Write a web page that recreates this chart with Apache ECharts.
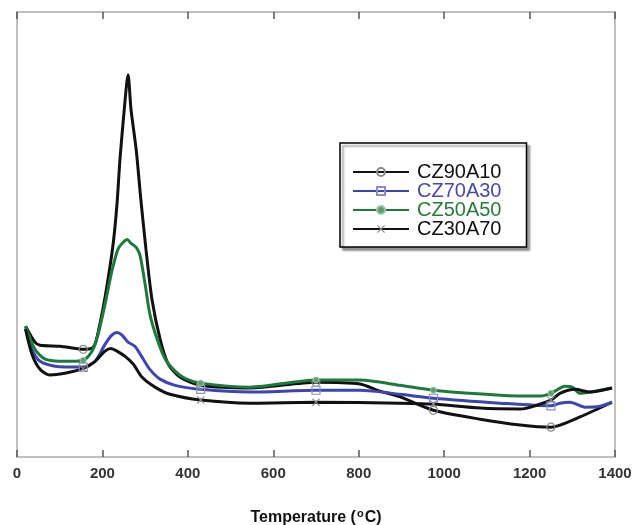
<!DOCTYPE html>
<html>
<head>
<meta charset="utf-8">
<script src="https://cdn.jsdelivr.net/npm/echarts@6/dist/echarts.min.js"></script>
<style>
  html, body { margin: 0; padding: 0; background: #ffffff; }
  #chart { width: 637px; height: 525px; }
</style>
</head>
<body>
<div id="chart"></div>
<script>
// TPD profiles: [temperature (°C), signal (a.u.)]
const cz90a10 = [[20,29.4],[42,25.8],[54,25.1],[101,24.9],[155,24.2],[176,24.5],[185,26.0],[201,33.2],[213,39.9],[225,47.8],[234,56.7],[241,66.8],[251,78.0],[260,85.9],[267,78.0],[279,69.1],[290,57.8],[302,46.6],[316,35.4],[335,26.5],[354,20.9],[382,17.9],[430,16.1],[546,15.5],[700,16.8],[803,16.4],[850,14.8],[897,13.5],[975,10.5],[1084,8.5],[1178,7.2],[1250,6.7],[1318,9.0],[1393,12.3]];
const cz70a30 = [[20,28.9],[35,24.2],[54,21.5],[89,20.4],[155,20.2],[183,21.5],[206,25.3],[222,27.4],[234,28.0],[246,27.4],[260,25.8],[276,24.9],[293,22.4],[311,19.7],[335,17.5],[370,16.1],[430,15.2],[546,14.6],[700,15.0],[803,15.0],[897,14.1],[975,13.2],[1131,12.1],[1250,11.5],[1271,12.1],[1295,12.3],[1330,11.2],[1365,11.4],[1393,12.3]];
const cz50a50 = [[20,29.4],[42,24.2],[66,22.0],[112,21.5],[155,21.7],[176,23.8],[190,27.6],[206,34.3],[222,41.7],[236,46.6],[248,48.2],[258,48.9],[267,48.0],[279,47.1],[288,45.3],[300,38.8],[311,32.1],[328,26.5],[347,22.0],[370,19.3],[393,17.7],[430,16.6],[546,15.7],[700,17.3],[803,17.3],[897,16.1],[975,15.0],[1131,13.9],[1225,13.7],[1250,14.3],[1283,15.9],[1300,15.7],[1318,14.3],[1353,14.8],[1393,15.5]];
const cz30a70 = [[20,28.7],[35,23.1],[54,19.7],[77,18.4],[112,18.8],[155,19.9],[183,21.5],[206,23.8],[220,24.4],[234,23.8],[253,22.6],[272,20.9],[293,17.9],[323,15.7],[358,14.1],[430,12.8],[546,12.1],[700,12.3],[897,12.1],[975,11.9],[1084,11.0],[1178,10.8],[1250,12.8],[1271,14.3],[1306,15.2],[1342,14.6],[1393,15.5]];

const markerTemps = [155, 430, 700, 975, 1250];
const xTicks = { min: 0, max: 1400, interval: 200 };

const crossPath = 'path://M0,1L1,0L5,4L9,0L10,1L6,5L10,9L9,10L5,6L1,10L0,9L4,5Z';
const sans = 'Liberation Sans, Arial, sans-serif';

function withMarkers(points) {
  return points.map(p => markerTemps.includes(p[0]) ? { value: p } : { value: p, symbol: 'none' });
}

function makeSeries(name, points, color, symbol, size, itemStyle) {
  return {
    name: name,
    type: 'line',
    data: withMarkers(points),
    smooth: 0.25,
    symbol: symbol,
    symbolSize: size,
    showSymbol: true,
    lineStyle: { color: color, width: 3 },
    itemStyle: itemStyle,
    emphasis: { disabled: true },
    z: 3
  };
}

const chart = echarts.init(document.getElementById('chart'), null, { renderer: 'canvas' });

const frameLine = { show: true, onZero: false, lineStyle: { color: '#aaaaaa', width: 1.5 } };
const innerTick = { show: true, inside: true, length: 7, lineStyle: { color: '#555555', width: 1.5 } };

chart.setOption({
  animation: false,
  backgroundColor: '#ffffff',
  grid: { left: 17, right: 22, top: 12, bottom: 68, containLabel: false, outerBoundsMode: 'none' },
  xAxis: [
    {
      type: 'value', position: 'bottom', min: xTicks.min, max: xTicks.max, interval: xTicks.interval,
      axisLine: frameLine,
      axisTick: innerTick,
      axisLabel: { margin: 9, fontFamily: sans, fontWeight: 'bold', fontSize: 15, color: '#333', formatter: v => String(v) },
      splitLine: { show: false },
      name: 'Temperature ({sup|o}C)',
      nameLocation: 'middle',
      nameGap: 51,
      nameTextStyle: {
        fontFamily: sans, fontWeight: 'bold', fontSize: 16, color: '#111',
        rich: { sup: { fontFamily: sans, fontWeight: 'bold', fontSize: 11, color: '#111', padding: [0, 1, 8, 1] } }
      }
    },
    {
      type: 'value', position: 'top', min: xTicks.min, max: xTicks.max, interval: xTicks.interval,
      axisLine: frameLine,
      axisTick: innerTick,
      axisLabel: { show: false },
      splitLine: { show: false }
    }
  ],
  yAxis: [
    {
      type: 'value', position: 'left', min: 0, max: 100,
      axisLine: frameLine,
      axisTick: { show: false }, axisLabel: { show: false }, splitLine: { show: false }
    },
    {
      type: 'value', position: 'right', min: 0, max: 100,
      axisLine: frameLine,
      axisTick: { show: false }, axisLabel: { show: false }, splitLine: { show: false }
    }
  ],
  legend: {
    orient: 'vertical',
    left: 340,
    top: 143,
    itemWidth: 56,
    itemHeight: 10,
    itemGap: -1,
    padding: [19, 25, 8, 12],
    backgroundColor: '#ffffff',
    borderColor: '#000000',
    borderWidth: 1.5,
    shadowColor: 'rgba(0,0,0,0.4)',
    shadowOffsetX: 3,
    shadowOffsetY: 3,
    shadowBlur: 2,
    textStyle: { fontFamily: sans, fontSize: 20, color: '#111', padding: [0, 0, 0, 3] },
    data: [
      { name: 'CZ90A10', textStyle: { color: '#111111' } },
      { name: 'CZ70A30', textStyle: { color: '#4a4aa8' } },
      { name: 'CZ50A50', textStyle: { color: '#2a7a3c' } },
      { name: 'CZ30A70', textStyle: { color: '#111111' } }
    ]
  },
  series: [
    makeSeries('CZ90A10', cz90a10, '#111111', 'circle', 8, { color: 'rgba(255,255,255,0)', borderColor: '#8a8a8a', borderWidth: 1.2 }),
    makeSeries('CZ70A30', cz70a30, '#3d45b0', 'rect', 8, { color: 'rgba(255,255,255,0)', borderColor: '#8c8cc8', borderWidth: 1.2 }),
    makeSeries('CZ50A50', cz50a50, '#1e7a3c', 'circle', 6, { color: '#5e9e6e', borderColor: '#9cc4a6', borderWidth: 1 }),
    makeSeries('CZ30A70', cz30a70, '#111111', crossPath, 8, { color: '#8a8a8a' })
  ]
});
</script>
</body>
</html>
